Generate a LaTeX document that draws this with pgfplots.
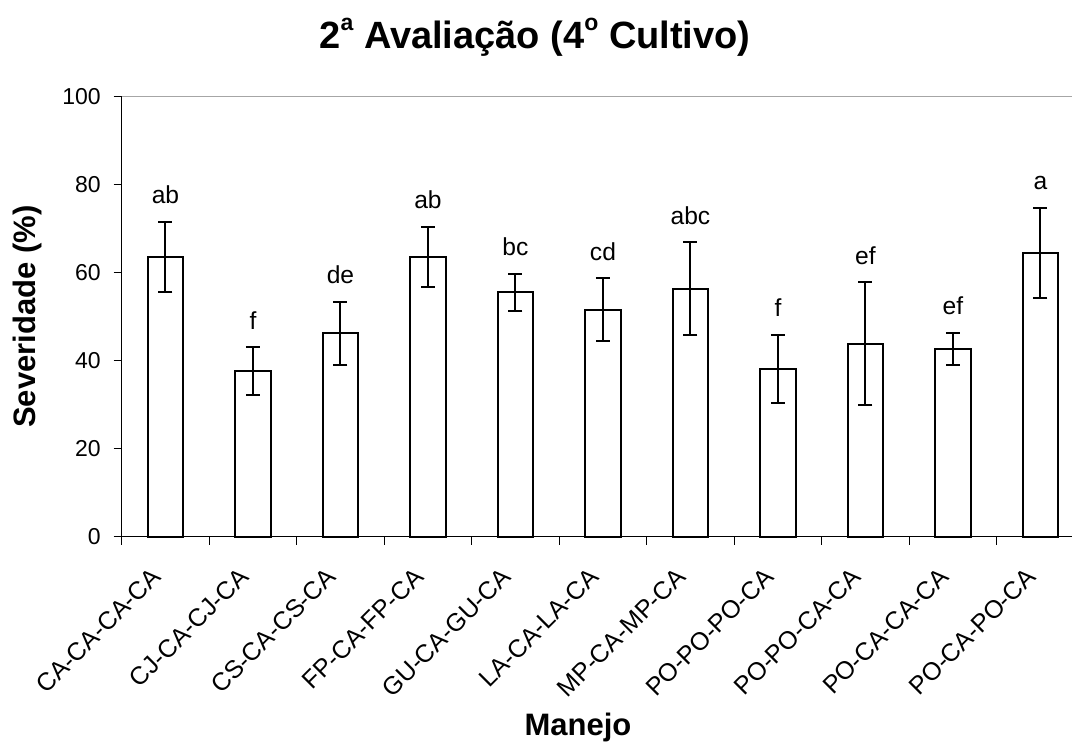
\documentclass[border=0pt]{standalone}
\usepackage{pgfplots}
\pgfplotsset{compat=1.18}
\usepackage{pgfplotstable}
\usepackage{fontspec}
\setmainfont{Liberation Sans}
\newcommand{\sups}[1]{\raisebox{9pt}{\fontsize{11.5}{12}\selectfont #1}}
\pgfplotstableread{
x y e lab
0 63.6 8.0 ab
1 37.7 5.4 f
2 46.2 7.2 de
3 63.6 6.8 ab
4 55.6 4.2 bc
5 51.6 7.1 cd
6 56.4 10.5 abc
7 38.1 7.8 f
8 43.9 13.9 ef
9 42.7 3.6 ef
10 64.5 10.3 a
}\datatable
\begin{document}
\begin{tikzpicture}
\begin{axis}[
  at={(60.85pt,107.15pt)}, anchor=south west,
  scale only axis, width=481.25pt, height=220pt,
  xmin=-0.5, xmax=10.5, ymin=0, ymax=100,
  axis line style={draw=none},
  xtick={0,...,10},
  xticklabels={CA-CA-CA-CA,CJ-CA-CJ-CA,CS-CA-CS-CA,FP-CA-FP-CA,GU-CA-GU-CA,LA-CA-LA-CA,MP-CA-MP-CA,PO-PO-PO-CA,PO-PO-CA-CA,PO-CA-CA-CA,PO-CA-PO-CA},
  major x tick style={draw=none},
  minor xtick={-0.5,0.5,...,10.5},
  ytick={0,20,...,100},
  tick align=outside, tick pos=left,
  major tick length=4pt, minor tick length=4pt,
  tick style={black, line width=0.5pt},
  x tick label style={rotate=45, anchor=north east, inner sep=0pt, xshift=-12.9pt, yshift=-2pt, font=\fontsize{12.5}{14}\selectfont},
  y tick label style={xshift=-3pt, font=\fontsize{11.5}{13}\selectfont},
  /pgf/number format/assume math mode=true,
  xlabel={Manejo}, ylabel={Severidade (\%)},
  every axis x label/.style={at={(axis description cs:0.474,-0.4325)}, anchor=center, font=\bfseries\fontsize{15.5}{18}\selectfont},
  every axis y label/.style={at={(axis description cs:-0.0974,0.5)}, rotate=90, anchor=center, font=\bfseries\fontsize{15.5}{18}\selectfont},
  title={2\sups{a} Avaliação (4\sups{o} Cultivo)},
  every axis title/.style={at={(axis description cs:0.4294,1.110)}, anchor=base, font=\bfseries\fontsize{19}{22}\selectfont},
  clip=false,
]
\draw[gray!70, line width=0.6pt] (rel axis cs:0,1) -- (rel axis cs:1,1) -- (rel axis cs:1,0);
\draw[black, line width=0.5pt] (rel axis cs:0,1) -- (rel axis cs:0,0) -- (rel axis cs:1,0);
\addplot[ybar, bar width=17.7pt, fill=white, draw=black, line width=1pt,
  error bars/.cd, y dir=both, y explicit,
  error bar style={black, line width=1pt},
  error mark options={rotate=90, mark size=3.5pt, line width=1pt}]
  table[x=x, y=y, y error=e] {\datatable};
\addplot[draw=none, mark=none, nodes near coords, point meta=explicit symbolic,
  nodes near coords style={anchor=base, yshift=9pt, font=\fontsize{12.3}{14}\selectfont, text=black}]
  table[x=x, y expr=\thisrow{y}+\thisrow{e}, meta=lab] {\datatable};
\end{axis}
\pgfresetboundingbox
\useasboundingbox (0,0) rectangle (536pt,375.5pt);
\end{tikzpicture}
\end{document}
